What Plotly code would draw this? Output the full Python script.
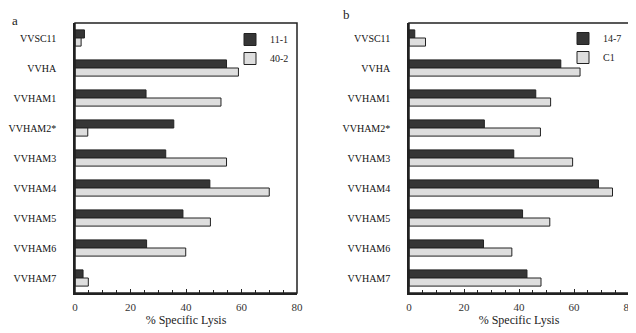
import plotly.graph_objects as go

categories = ["VVSC11", "VVHA", "VVHAM1", "VVHAM2*", "VVHAM3", "VVHAM4", "VVHAM5", "VVHAM6", "VVHAM7"]

a_11_1 = [3.4, 54.6, 25.6, 35.6, 32.7, 48.6, 38.9, 25.8, 2.9]
a_40_2 = [2.2, 58.9, 52.6, 4.6, 54.6, 70.0, 48.8, 39.9, 4.8]

b_14_7 = [2.1, 55.2, 46.1, 27.4, 38.1, 68.9, 41.3, 27.1, 42.9]
b_C1 = [6.0, 62.2, 51.5, 47.8, 59.5, 74.0, 51.2, 37.4, 48.0]

x_ticks = [0, 20, 40, 60, 80]

DARK = "#363636"
LIGHT = "#dedede"
EDGE = "#222222"
FONT = "Liberation Serif"

fig = go.Figure()

fig.add_trace(go.Bar(y=categories, x=a_11_1, orientation="h", name="11-1",
                     marker=dict(color=DARK, line=dict(color=EDGE, width=1)),
                     xaxis="x", yaxis="y", legend="legend"))
fig.add_trace(go.Bar(y=categories, x=a_40_2, orientation="h", name="40-2",
                     marker=dict(color=LIGHT, line=dict(color=EDGE, width=1)),
                     xaxis="x", yaxis="y", legend="legend"))
fig.add_trace(go.Bar(y=categories, x=b_14_7, orientation="h", name="14-7",
                     marker=dict(color=DARK, line=dict(color=EDGE, width=1)),
                     xaxis="x2", yaxis="y2", legend="legend2"))
fig.add_trace(go.Bar(y=categories, x=b_C1, orientation="h", name="C1",
                     marker=dict(color=LIGHT, line=dict(color=EDGE, width=1)),
                     xaxis="x2", yaxis="y2", legend="legend2"))

# the page body has an 8px margin, so the figure is 8px smaller than the window
W, H = 628, 325

def xax(domain, anchor):
    return dict(domain=domain, anchor=anchor, range=[0, 80], tickvals=x_ticks,
                ticks="inside", ticklen=4, tickcolor="#222", showgrid=False,
                showline=True, linecolor="#222", linewidth=1.5,
                zeroline=False, automargin=False, ticklabelstandoff=3,
                tickfont=dict(family=FONT, size=11, color="#333"),
                minor=dict(dtick=5, ticks="inside", ticklen=3, tickcolor="#222"),
                title=dict(text="% Specific Lysis", font=dict(family=FONT, size=12, color="#222"), standoff=4),
                fixedrange=True)

def yax(domain, anchor):
    return dict(domain=domain, anchor=anchor, categoryorder="array", categoryarray=categories,
                autorange="reversed", showgrid=False, showline=True, linecolor="#222",
                linewidth=1.5, ticks="", ticklabelstandoff=15, automargin=False,
                tickfont=dict(family=FONT, size=10, color="#111"), fixedrange=True)

ytop = 1 - 15 / H
ybot = 1 - 285 / H

frame = dict(type="rect", x0=0, x1=1, y0=0, y1=1,
             line=dict(color="#222", width=1.5), fillcolor="rgba(0,0,0,0)", layer="above")

fig.update_layout(
    width=W, height=H,
    margin=dict(l=0, r=0, t=0, b=0, autoexpand=False),
    paper_bgcolor="white", plot_bgcolor="white",
    barmode="group", bargap=0.46, bargroupgap=0,
    xaxis=xax([67 / W, 289 / W], "y"),
    yaxis=yax([ybot, ytop], "x"),
    xaxis2=xax([401 / W, 621 / W], "y2"),
    yaxis2=yax([ybot, ytop], "x2"),
    legend=dict(x=222 / W, y=1 - 17 / H, xanchor="left", yanchor="top",
                bgcolor="rgba(0,0,0,0)", font=dict(family=FONT, size=10, color="#222"),
                tracegroupgap=0),
    legend2=dict(x=555 / W, y=1 - 16 / H, xanchor="left", yanchor="top",
                 bgcolor="rgba(0,0,0,0)", font=dict(family=FONT, size=10, color="#222"),
                 tracegroupgap=0),
    shapes=[dict(frame, xref="x domain", yref="y domain"),
            dict(frame, xref="x2 domain", yref="y2 domain")],
    annotations=[
        dict(text="a", x=2 / W, y=1 - 12 / H, xref="paper", yref="paper",
             showarrow=False, xanchor="left", yanchor="middle",
             font=dict(family=FONT, size=13, color="#222")),
        dict(text="b", x=333 / W, y=1 - 7 / H, xref="paper", yref="paper",
             showarrow=False, xanchor="left", yanchor="middle",
             font=dict(family=FONT, size=13, color="#222")),
    ],
)

fig.write_html("out.html")
